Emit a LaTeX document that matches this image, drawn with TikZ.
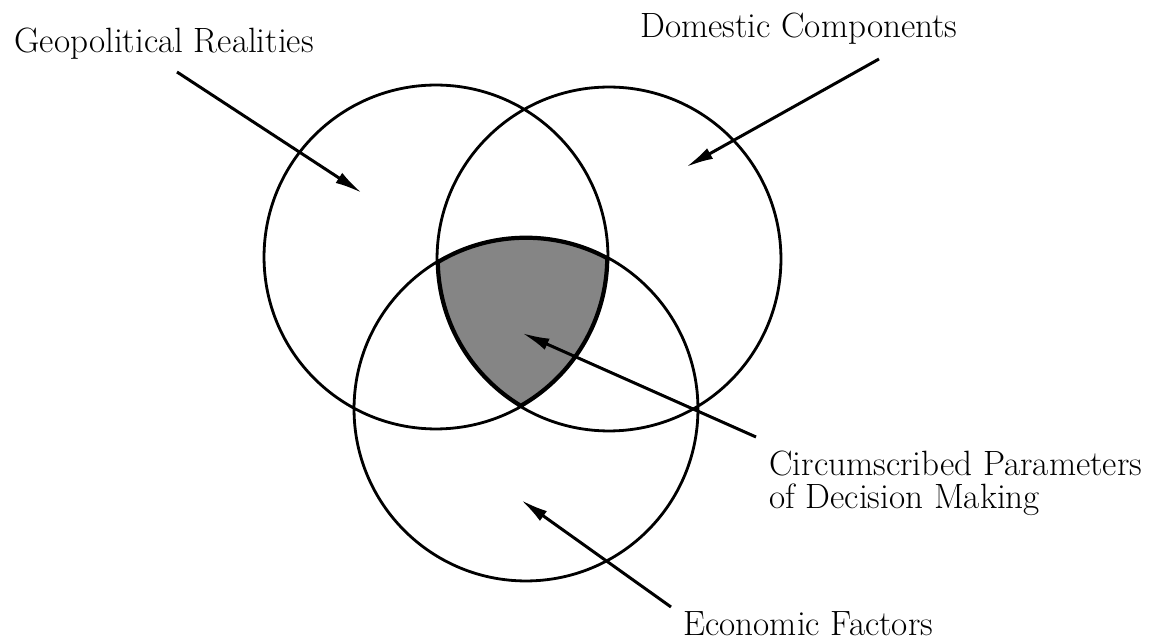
\documentclass[tikz,border=0pt]{standalone}
\usepackage{tikz}
\usetikzlibrary{arrows.meta}

\begin{document}
\begin{tikzpicture}[x=0.02cm,y=-0.02cm,>={Latex[length=5.5mm,width=2.4mm]}]
  \tikzset{
    ring/.style={draw=black,line width=1.6pt},
    pointer/.style={draw=black,line width=1.7pt,->},
    lbl/.style={font=\fontsize{20}{19}\selectfont,inner sep=0pt,anchor=base west,align=left},
    overlap/.style={fill=black!48},
  }
  \useasboundingbox (0,0) rectangle (1161,641);

  \coordinate (cL) at (436,257);
  \coordinate (cR) at (609,259);
  \coordinate (cB) at (526,409);

  % shaded common part of the three circles, with a heavier rim
  \begin{scope}
    \clip (cL) circle[radius=3.44cm];
    \clip (cR) circle[radius=3.44cm];
    \clip (cB) circle[radius=3.44cm];
    \fill[overlap] (cB) circle[radius=3.44cm];
    \draw[line width=3.2pt] (cL) circle[radius=3.44cm] (cR) circle[radius=3.44cm]
                            (cB) circle[radius=3.44cm];
  \end{scope}
  \draw[ring] (cL) circle[radius=3.44cm] (cR) circle[radius=3.44cm]
              (cB) circle[radius=3.44cm];

  \node[lbl] (geo) at (14,53) {Geopolitical Realities};
  \node[lbl] (dom) at (640,38) {Domestic Components};
  \node[lbl] (cpd) at (769,509) {Circumscribed Parameters\\of Decision Making};
  \node[lbl] (eco) at (683,636) {Economic Factors};

  \coordinate (geoTail) at (177,72);  \coordinate (geoTip) at (362,193);
  \coordinate (domTail) at (879,59);  \coordinate (domTip) at (686,167);
  \coordinate (cpdTail) at (756,437); \coordinate (cpdTip) at (522,333);
  \coordinate (ecoTail) at (671,607); \coordinate (ecoTip) at (521,500);

  \draw[pointer] (geoTail) -- (geoTip);
  \draw[pointer] (domTail) -- (domTip);
  \draw[pointer] (cpdTail) -- (cpdTip);
  \draw[pointer] (ecoTail) -- (ecoTip);
\end{tikzpicture}
\end{document}
